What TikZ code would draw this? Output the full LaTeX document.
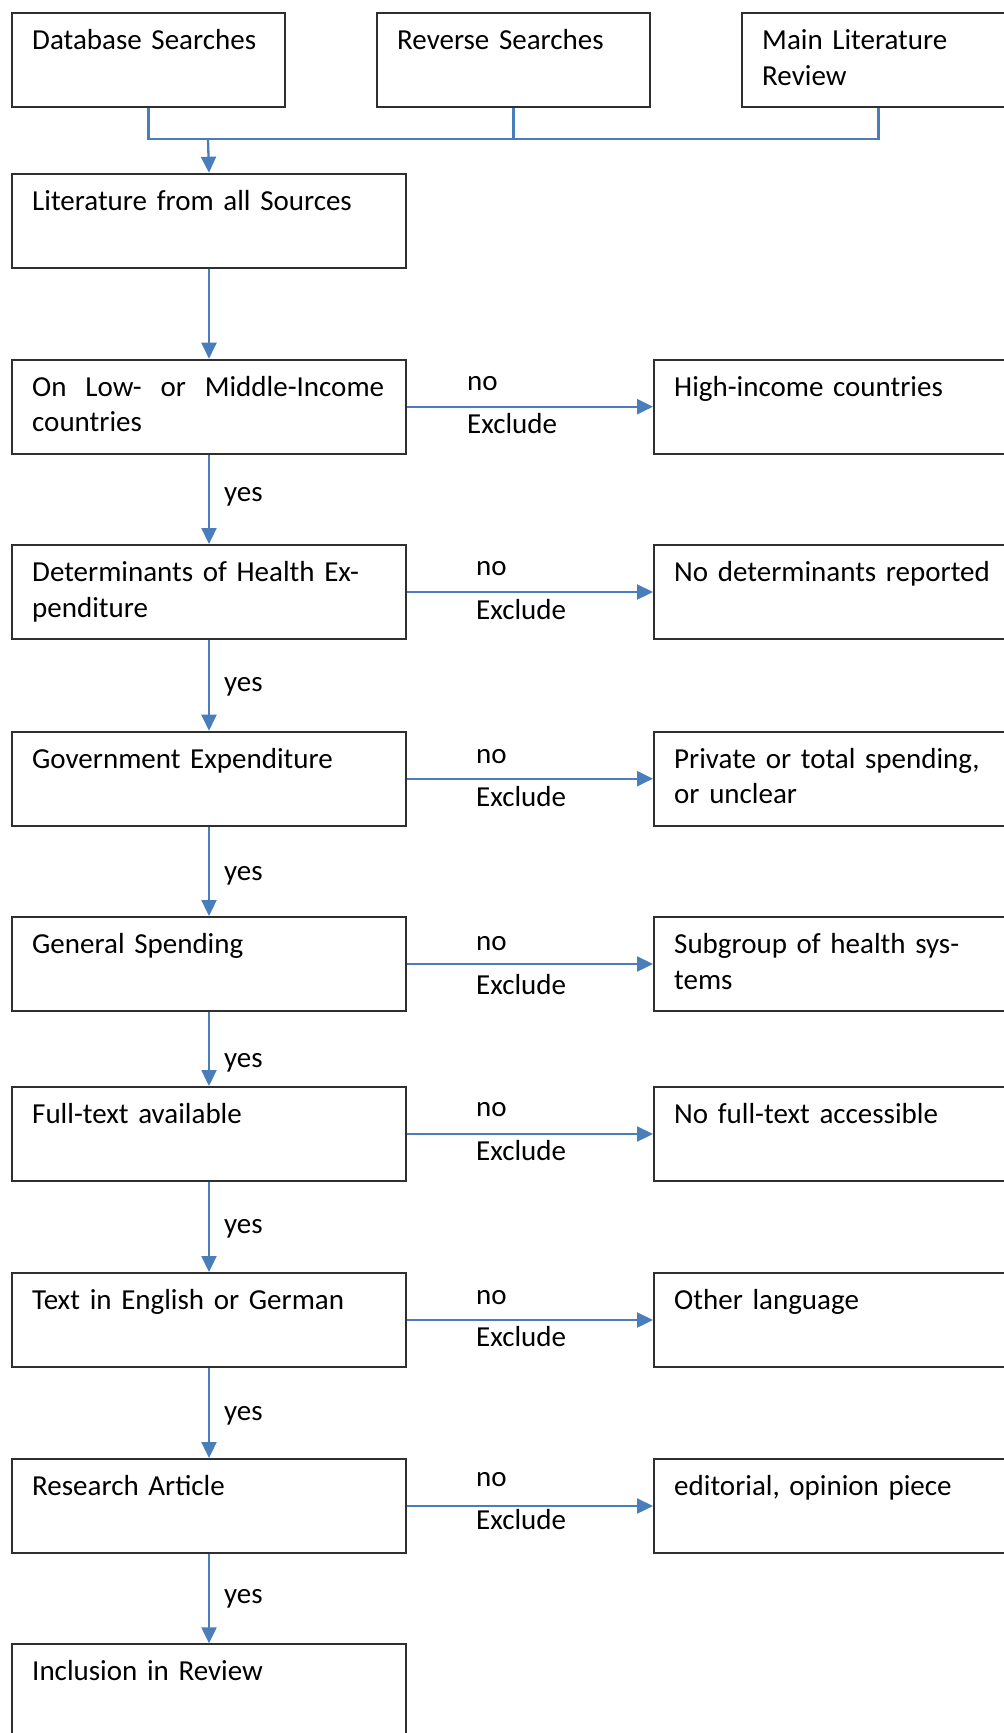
\documentclass[tikz,border=0pt]{standalone}
\usepackage{fontspec}
\setmainfont{Carlito}
\usetikzlibrary{calc,arrows.meta}
\definecolor{flowblue}{HTML}{4A7EBB}
\definecolor{frame}{HTML}{2F2F2F}
\begin{document}
\begin{tikzpicture}[x=1pt,y=-1pt,
  every node/.style={font=\fontsize{29pt}{35.4pt}\selectfont},
  box/.style={draw=frame, line width=2pt, rectangle, inner sep=0pt,
    anchor=north west, minimum height=94pt},
  wide/.style={box, minimum width=394pt},
  narrow/.style={box, minimum width=273pt},
  boxtext/.style={anchor=base west, inner sep=0pt, align=left, text width=352pt},
  lbl/.style={anchor=base west, inner sep=0pt},
  link/.style={draw=flowblue, line width=2.3pt},
  arr/.style={link, -{Triangle[length=16pt,width=15pt]}},
]
\useasboundingbox (0,0) rectangle (1004,1733);
\clip (0,0) rectangle (1004,1733);

% sources
\node[narrow] (src1) at (11,12.3) {};
\node[narrow] (src2) at (376,12.3) {};
\node[narrow] (src3) at (741,12.3) {};
\node[boxtext] (src1t) at ($(src1.north west)+(21,37.6)$) {Database Searches};
\node[boxtext] (src2t) at ($(src2.north west)+(21,37.6)$) {Reverse Searches};
\node[boxtext] (src3t) at ($(src3.north west)+(21,37.6)$) {Main Literature\\Review};

% screening chain
\node[wide] (lit)  at (11,172.7) {};
\node[wide] (q1)   at (11,358.7) {};
\node[wide] (q2)   at (11,544) {};
\node[wide] (q3)   at (11,730.7) {};
\node[wide] (q4)   at (11,916) {};
\node[wide] (q5)   at (11,1086) {};
\node[wide] (q6)   at (11,1272) {};
\node[wide] (q7)   at (11,1458) {};
\node[wide] (incl) at (11,1643.3) {};

\node[boxtext] (litt)  at ($(lit.north west)+(21,37.6)$) {Literature from all Sources};
\node[boxtext] (q1t)   at ($(q1.north west)+(21,37.6)$) {\makebox[\linewidth][l]{On\hfill Low-\hfill or\hfill Middle-Income}\\countries};
\node[boxtext] (q2t)   at ($(q2.north west)+(21,37.6)$) {Determinants of Health Ex-\\penditure};
\node[boxtext] (q3t)   at ($(q3.north west)+(21,37.6)$) {Government Expenditure};
\node[boxtext] (q4t)   at ($(q4.north west)+(21,37.6)$) {General Spending};
\node[boxtext] (q5t)   at ($(q5.north west)+(21,37.6)$) {Full-text available};
\node[boxtext] (q6t)   at ($(q6.north west)+(21,37.6)$) {Text in English or German};
\node[boxtext] (q7t)   at ($(q7.north west)+(21,37.6)$) {Research Article};
\node[boxtext] (inclt) at ($(incl.north west)+(21,37.6)$) {Inclusion in Review};

% exclusions
\node[wide] (x1) at (653,358.7) {};
\node[wide] (x2) at (653,544) {};
\node[wide] (x3) at (653,730.7) {};
\node[wide] (x4) at (653,916) {};
\node[wide] (x5) at (653,1086) {};
\node[wide] (x6) at (653,1272) {};
\node[wide] (x7) at (653,1458) {};

\node[boxtext] (x1t) at ($(x1.north west)+(21,37.6)$) {High-income countries};
\node[boxtext] (x2t) at ($(x2.north west)+(21,37.6)$) {No determinants reported};
\node[boxtext] (x3t) at ($(x3.north west)+(21,37.6)$) {Private or total spending,\\or unclear};
\node[boxtext] (x4t) at ($(x4.north west)+(21,37.6)$) {Subgroup of health sys-\\tems};
\node[boxtext] (x5t) at ($(x5.north west)+(21,37.6)$) {No full-text accessible};
\node[boxtext] (x6t) at ($(x6.north west)+(21,37.6)$) {Other language};
\node[boxtext] (x7t) at ($(x7.north west)+(21,37.6)$) {editorial, opinion piece};

% merging the sources
\coordinate (bus) at (208,139.3);
\draw[link] (src1.south) |- (bus);
\draw[link] (src2.south) |- (bus);
\draw[link] (src3.south) |- (bus);
\draw[arr] (bus) -- (lit.north);

% main flow
\draw[arr] (lit.south) -- (q1.north);
\draw[arr] (q1.south) -- (q2.north);
\draw[arr] (q2.south) -- (q3.north);
\draw[arr] (q3.south) -- (q4.north);
\draw[arr] (q4.south) -- (q5.north);
\draw[arr] (q5.south) -- (q6.north);
\draw[arr] (q6.south) -- (q7.north);
\draw[arr] (q7.south) -- (incl.north);

\node[lbl] (y1) at (224,501) {yes};
\node[lbl] (y2) at (224,691.7) {yes};
\node[lbl] (y3) at (224,880) {yes};
\node[lbl] (y4) at (224,1067.3) {yes};
\node[lbl] (y5) at (224,1233.3) {yes};
\node[lbl] (y6) at (224,1420) {yes};
\node[lbl] (y7) at (224,1603) {yes};

% exclusion branches
\draw[arr] (q1.east) -- (x1.west);
\draw[arr] (q2.east) -- (x2.west);
\draw[arr] (q3.east) -- (x3.west);
\draw[arr] (q4.east) -- (x4.west);
\draw[arr] (q5.east) -- (x5.west);
\draw[arr] (q6.east) -- (x6.west);
\draw[arr] (q7.east) -- (x7.west);

\node[lbl] (n1) at (467,390)    {no};
\node[lbl] (e1) at (467,433.3)  {Exclude};
\node[lbl] (n2) at (476,575.7)  {no};
\node[lbl] (e2) at (476,619.3)  {Exclude};
\node[lbl] (n3) at (476,763.3)  {no};
\node[lbl] (e3) at (476,806.7)  {Exclude};
\node[lbl] (n4) at (476,950.7)  {no};
\node[lbl] (e4) at (476,994.3)  {Exclude};
\node[lbl] (n5) at (476,1116)   {no};
\node[lbl] (e5) at (476,1160)   {Exclude};
\node[lbl] (n6) at (476,1304)   {no};
\node[lbl] (e6) at (476,1346.7) {Exclude};
\node[lbl] (n7) at (476,1486.7) {no};
\node[lbl] (e7) at (476,1529.3) {Exclude};
\end{tikzpicture}
\end{document}
